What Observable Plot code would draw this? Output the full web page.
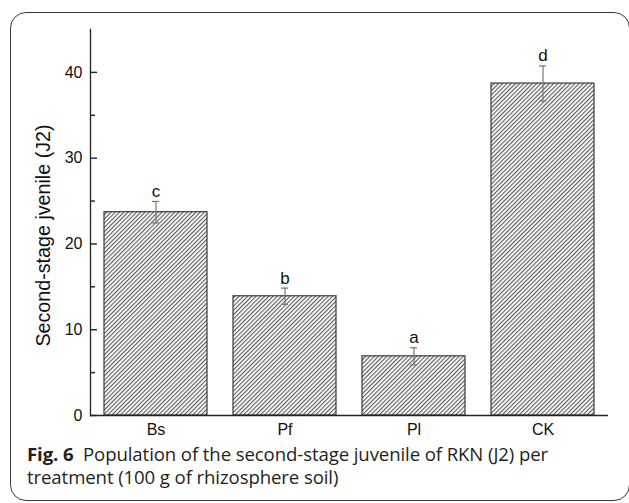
<!DOCTYPE html>
<html>
<head>
<meta charset="utf-8">
<script src="https://cdn.jsdelivr.net/npm/d3@7"></script>
<script src="https://cdn.jsdelivr.net/npm/@observablehq/plot@0.6"></script>
<style>
  html, body { margin: 0; padding: 0; background: #fff; }
  body { width: 629px; height: 503px; position: relative; overflow: hidden; }
  #frame {
    position: absolute; left: 10px; top: 12px; width: 620px; height: 489px;
    box-sizing: border-box; border: 1.5px solid #3a3a3a; border-radius: 16px;
  }
  #chart { position: absolute; left: 0; top: 0; }
  #caption {
    position: absolute; left: 27px; top: 442px; width: 600px;
    font-family: "Open Sans", sans-serif; font-size: 18.6px; line-height: 23px; color: #231f20;
    letter-spacing: -0.1px;
  }
  #caption b { font-weight: 700; }
</style>
</head>
<body>
<div id="frame"></div>
<div id="chart"></div>
<div id="caption"><b>Fig. 6</b>&nbsp; Population of the second-stage juvenile of RKN (J2) per<br>treatment (100 g of rhizosphere soil)</div>
<script>
const treatments = ["Bs", "Pf", "Pl", "CK"];
const means = [23.7, 13.9, 6.9, 38.7];
const errors = [1.25, 0.95, 1.0, 2.05];
const letters = ["c", "b", "a", "d"];
const majorTicks = [0, 10, 20, 30, 40];
const minorTicks = [5, 15, 25, 35];
const yLabel = "Second-stage jvenile (J2)";

const data = treatments.map((t, i) => ({
  t, mean: means[i], lo: means[i] - errors[i], hi: means[i] + errors[i], letter: letters[i]
}));

const font = "'Liberation Sans', Arial, sans-serif";

const chart = Plot.plot({
  width: 629,
  height: 440,
  marginLeft: 90,
  marginRight: 21,
  marginTop: 29,
  marginBottom: 25,
  style: { fontFamily: font, fontSize: "16px", color: "#111", background: "transparent" },
  x: { domain: treatments, paddingInner: 0.2, paddingOuter: 0.1, label: null },
  y: { domain: [0, 45], label: null },
  marks: [
    Plot.barY(data, { x: "t", y: "mean", fill: "url(#hatch)", stroke: "#3a3a3a", strokeWidth: 1.2 }),
    Plot.ruleX(data, { x: "t", y1: "lo", y2: "hi", stroke: "#777", strokeWidth: 1.2 }),
    Plot.tickY(data, { x: "t", y: "lo", stroke: "#777", strokeWidth: 1.2, inset: 48 }),
    Plot.tickY(data, { x: "t", y: "hi", stroke: "#777", strokeWidth: 1.2, inset: 48 }),
    Plot.text(data, { x: "t", y: "hi", text: "letter", dy: -10, fontSize: 17, fill: "#111" }),
    Plot.frame({ anchor: "left", stroke: "#222", strokeWidth: 1.3 }),
    Plot.axisY(majorTicks, { tickSize: -7, tickFormat: () => "", stroke: "#222", strokeWidth: 1.4, strokeOpacity: 1 }),
    Plot.axisY(minorTicks, { tickSize: -5, tickFormat: () => "", stroke: "#222", strokeWidth: 1.4, strokeOpacity: 1 }),
    Plot.axisY(majorTicks, { tickSize: 0, tickPadding: 8, fontSize: 16, label: null }),
    Plot.axisX({ tickSize: 0, tickPadding: 8, fontSize: 16, label: null }),
    Plot.ruleY([0], { stroke: "#222", strokeWidth: 1.3 }),
    Plot.text([yLabel], { frameAnchor: "left", textAnchor: "middle", dx: -47, dy: 13, rotate: -90, fontSize: 19.7, fill: "#111" })
  ]
});

const svg = d3.select(chart);
const defs = svg.insert("defs", ":first-child");
const pat = defs.append("pattern")
  .attr("id", "hatch")
  .attr("patternUnits", "userSpaceOnUse")
  .attr("width", 3)
  .attr("height", 3)
  .attr("patternTransform", "rotate(45)");
pat.append("rect").attr("width", 3).attr("height", 3).attr("fill", "#fff");
pat.append("line").attr("x1", 0.6).attr("y1", 0).attr("x2", 0.6).attr("y2", 3)
  .attr("stroke", "#555").attr("stroke-width", 1.1);

document.getElementById("chart").appendChild(chart);
</script>
</body>
</html>
